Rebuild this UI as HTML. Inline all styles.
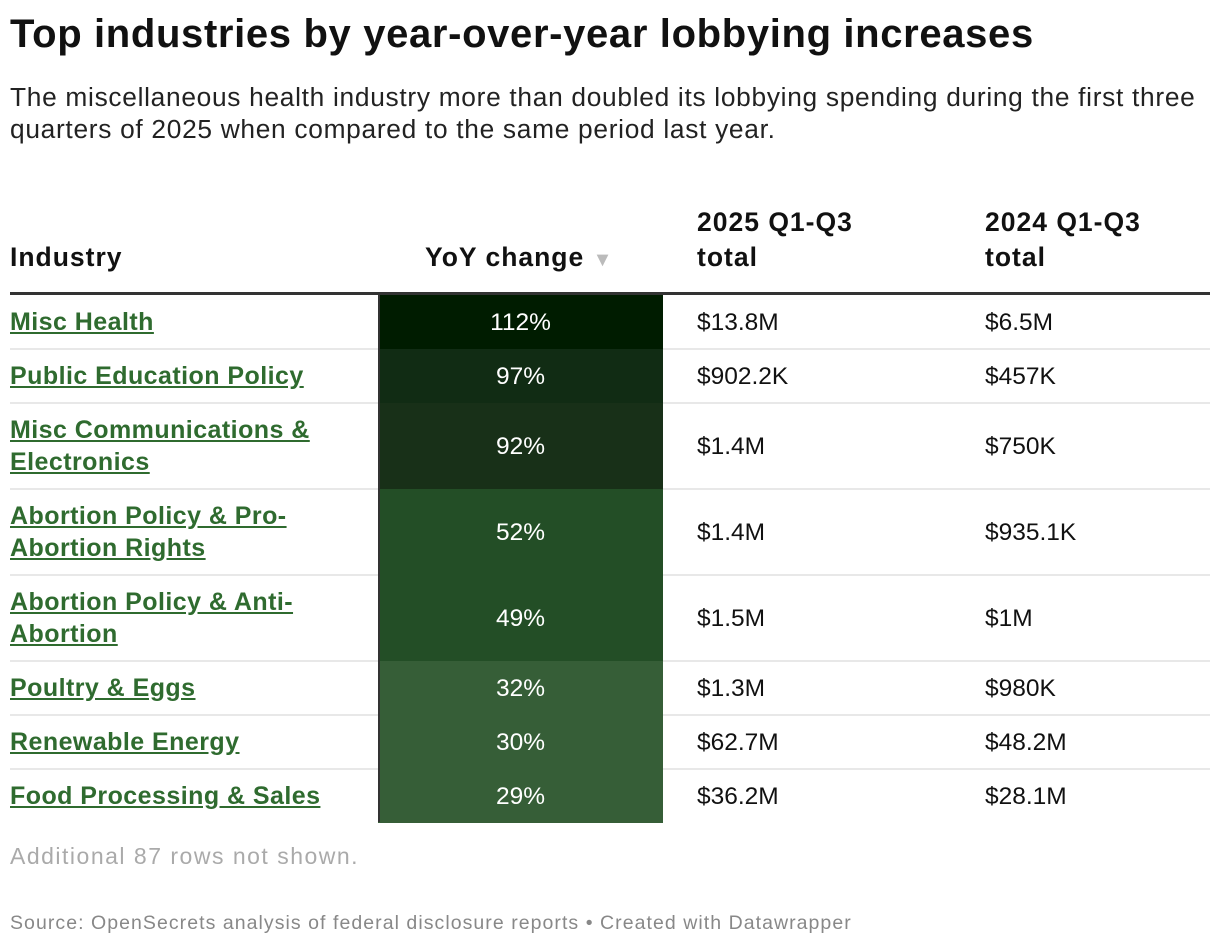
<!DOCTYPE html>
<html><head><meta charset="utf-8">
<style>
body{margin:0;width:1220px;height:948px;background:#fff;font-family:"Liberation Sans",sans-serif;color:#111;position:relative;overflow:hidden}
.a{position:absolute;white-space:nowrap}
#title{left:10px;top:12px;font-size:40px;font-weight:bold;letter-spacing:0.65px}
#sub{left:10px;top:81px;font-size:26.3px;line-height:32px;color:#222;white-space:normal;width:1210px;letter-spacing:0.7px}
.hd{font-size:26.5px;font-weight:bold;line-height:35px;letter-spacing:1px}
.ind{font-size:25px;font-weight:bold;color:#2f6b2f;text-decoration:underline;line-height:32px;left:10px;letter-spacing:0.45px}
.val{font-size:24.5px;line-height:32px}
.pct{font-size:24.5px;line-height:32px;color:#fff;text-align:center;width:285px;left:378px}
.rule{left:10px;width:1200px;height:2px;background:#e8e8e8}
.cell{left:378px;width:285px}
</style></head><body>
<div id="title" class="a">Top industries by year-over-year lobbying increases</div>
<div id="sub" class="a">The miscellaneous health industry more than doubled its lobbying spending during the first three quarters of 2025 when compared to the same period last year.</div>
<div class="a hd" style="left:10px;top:240px">Industry</div>
<div class="a hd" style="left:425px;top:240px">YoY change <span style="color:#bbb;font-size:20px">▼</span></div>
<div class="a hd" style="left:697px;top:205px">2025 Q1-Q3<br>total</div>
<div class="a hd" style="left:985px;top:205px">2024 Q1-Q3<br>total</div>
<div class="a" style="left:10px;top:292px;width:1200px;height:3px;background:#333"></div>
<div id="rows"></div>
<div class="a" style="left:378px;top:295px;width:2px;height:527px;background:#333;z-index:2"></div>
<div class="a" style="left:10px;top:843px;font-size:23px;letter-spacing:1.5px;color:#aaa">Additional 87 rows not shown.</div>
<div class="a" style="left:10px;top:912px;font-size:19.5px;letter-spacing:1.05px;color:#888">Source: OpenSecrets analysis of federal disclosure reports • Created with Datawrapper</div>
<script>
const industries=["Misc Health","Public Education Policy","Misc Communications &amp;<br>Electronics","Abortion Policy &amp; Pro-<br>Abortion Rights","Abortion Policy &amp; Anti-<br>Abortion","Poultry &amp; Eggs","Renewable Energy","Food Processing &amp; Sales"];
const yoy=[112,97,92,52,49,32,30,29];
const total2025=["$13.8M","$902.2K","$1.4M","$1.4M","$1.5M","$1.3M","$62.7M","$36.2M"];
const total2024=["$6.5M","$457K","$750K","$935.1K","$1M","$980K","$48.2M","$28.1M"];
function color(v){return v>=105?"#001c00":v>=95?"#112c14":v>=80?"#183018":v>=40?"#234e26":"#365e37";}
const root=document.getElementById('rows');
let y=295;
industries.forEach((name,i)=>{
  const two=name.includes('<br>');const h=two?86:54;
  const cell=document.createElement('div');cell.className='a cell';
  cell.style.top=y+'px';cell.style.height=h+'px';cell.style.background=color(yoy[i]);
  
  
  root.appendChild(cell);
  const ty=y+h/2-16;
  const n=document.createElement('div');n.className='a ind';n.style.top=(two?y+11:ty)+'px';n.innerHTML=name;
  
  
  root.appendChild(n);
  const p=document.createElement('div');p.className='a pct';p.style.top=(ty+1)+'px';p.textContent=yoy[i]+'%';
  
  
  root.appendChild(p);
  const a=document.createElement('div');a.className='a val';a.style.left='697px';a.style.top=(ty+1)+'px';a.textContent=total2025[i];
  
  
  root.appendChild(a);
  const b=document.createElement('div');b.className='a val';b.style.left='985px';b.style.top=(ty+1)+'px';b.textContent=total2024[i];
  
  
  root.appendChild(b);
  y+=h;
  if(i<industries.length-1){const r=document.createElement('div');r.className='a rule';r.style.top=(y-1)+'px';
  
  
  root.insertBefore(r,root.firstChild);}
});
</script>
</body></html>
